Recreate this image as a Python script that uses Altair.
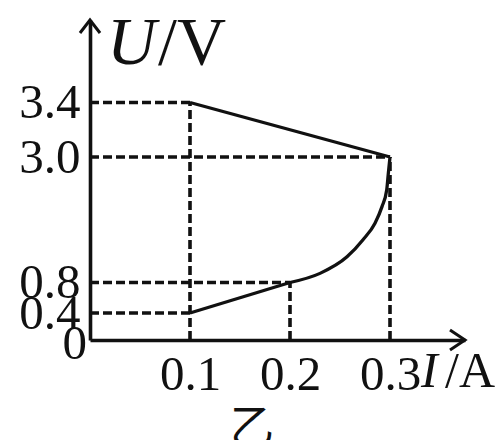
import altair as alt
import pandas as pd

# Current I (A) and voltage U (V) of the two graph branches
upper_i = [0.1, 0.3]
upper_u = [3.4, 3.0]
lower_i = [0.1, 0.2]
lower_u = [0.4, 0.8]
curve_i = [0.2, 0.23, 0.257, 0.273, 0.285, 0.292, 0.2967, 0.2983, 0.3]
curve_u = [0.8, 0.96, 1.25, 1.55, 1.84, 2.13, 2.42, 2.71, 3.0]

# Marked points that get dashed guides down to both axes
key_i = [0.1, 0.3, 0.2, 0.1]
key_u = [3.4, 3.0, 0.8, 0.4]

x_ticks = [0.1, 0.2, 0.3]
y_ticks = [0.4, 0.8, 3.0, 3.4]

# Axis ends (arrow tips)
x_end = 0.375
y_end = 4.0

y_title = ["U", "/V"]
x_title = ["I", "/A"]
origin_label = "0"
caption = "乙"

INK = "#111111"
SERIF = "Liberation Serif"

# Not-to-scale voltage axis: piecewise-linear mapping between the marked values
x_scale = alt.Scale(domain=[0, x_end], range=[0, 375], nice=False, zero=False)
y_scale = alt.Scale(domain=[0, 0.4, 0.8, 3.0, 3.4, y_end],
                    range=[320, 293, 262.5, 137, 82.5, 0], nice=False, zero=False)

# Dashed guides: horizontal from the U axis, vertical from the I axis
rows = []
for i, u in zip(key_i, key_u):
    rows.append({"x": 0.0, "y": u, "x2": i, "y2": u})
tops = {}
for i, u in zip(key_i, key_u):
    tops[i] = max(u, tops.get(i, 0))
for i, u in tops.items():
    rows.append({"x": i, "y": 0.0, "x2": i, "y2": u})
guides_df = pd.DataFrame(rows)

branches = pd.concat([
    pd.DataFrame({"I": upper_i, "U": upper_u, "part": "upper"}),
    pd.DataFrame({"I": lower_i, "U": lower_u, "part": "lower"}),
])
curve_df = pd.DataFrame({"I": curve_i, "U": curve_u})

guides = alt.Chart(guides_df).mark_rule(
    color=INK, strokeWidth=3.6, strokeDash=[9, 4]
).encode(
    x=alt.X("x:Q", scale=x_scale,
            axis=alt.Axis(values=x_ticks, format=".1f", title=None, ticks=False,
                          grid=False, domainColor=INK, domainWidth=3.6,
                          labelFont=SERIF, labelFontSize=49, labelColor=INK,
                          labelPadding=10, labelFlush=False, labelOverlap=False)),
    y=alt.Y("y:Q", scale=y_scale,
            axis=alt.Axis(values=y_ticks, format=".1f", title=None, ticks=False,
                          grid=False, domainColor=INK, domainWidth=3.6,
                          labelFont=SERIF, labelFontSize=49, labelColor=INK,
                          labelPadding=10, labelFlush=False, labelOverlap=False,
                          labelBaseline="middle")),
    x2="x2:Q",
    y2="y2:Q",
)

straight = alt.Chart(branches).mark_line(color=INK, strokeWidth=3.3).encode(
    x=alt.X("I:Q", scale=x_scale),
    y=alt.Y("U:Q", scale=y_scale),
    detail="part:N",
)

curve = alt.Chart(curve_df).mark_line(
    color=INK, strokeWidth=3.3, interpolate="monotone"
).encode(
    x=alt.X("I:Q", scale=x_scale),
    y=alt.Y("U:Q", scale=y_scale),
)

arrow_up = alt.Chart(pd.DataFrame({"I": [0.0], "U": [y_end]})).mark_point(
    shape="M-0.77,1L0,0L0.77,1", size=676, filled=False,
    stroke=INK, strokeWidth=3, opacity=1
).encode(x=alt.X("I:Q", scale=x_scale), y=alt.Y("U:Q", scale=y_scale))

arrow_right = alt.Chart(pd.DataFrame({"I": [x_end], "U": [0.0]})).mark_point(
    shape="M-1,-0.67L0,0L-1,0.67", size=900, filled=False,
    stroke=INK, strokeWidth=3, opacity=1
).encode(x=alt.X("I:Q", scale=x_scale), y=alt.Y("U:Q", scale=y_scale))

origin = alt.Chart(pd.DataFrame({"I": [0.0], "U": [0.0], "t": [origin_label]})).mark_text(
    font=SERIF, fontSize=49, color=INK, align="right", baseline="middle", dx=-3, dy=4
).encode(x=alt.X("I:Q", scale=x_scale), y=alt.Y("U:Q", scale=y_scale), text="t:N")


def label(text, x, y, size, italic=False, font=SERIF, align="left", baseline="alphabetic"):
    kwargs = dict(font=font, fontSize=size, color=INK, align=align, baseline=baseline)
    if italic:
        kwargs["fontStyle"] = "italic"
    return alt.Chart(pd.DataFrame({"t": [text]})).mark_text(**kwargs).encode(
        text="t:N", x=alt.value(x), y=alt.value(y)
    )


titles = [
    label(y_title[0], 17, 44, 68, italic=True),
    label(y_title[1], 68, 44, 68),
    label(x_title[0], 331, 367, 50, italic=True),
    label(x_title[1], 355, 367, 50),
    label(caption, 162, 387, 44, font="Noto Sans CJK SC", align="center", baseline="top"),
]

chart = alt.layer(guides, straight, curve, arrow_up, arrow_right, origin, *titles).properties(
    width=375,
    height=320,
    autosize="none",
    padding={"left": 90, "top": 20, "right": 34, "bottom": 100},
    background="white",
).configure_view(stroke=None)

chart.save("out.html", embed_options={"renderer": "svg", "actions": False})
